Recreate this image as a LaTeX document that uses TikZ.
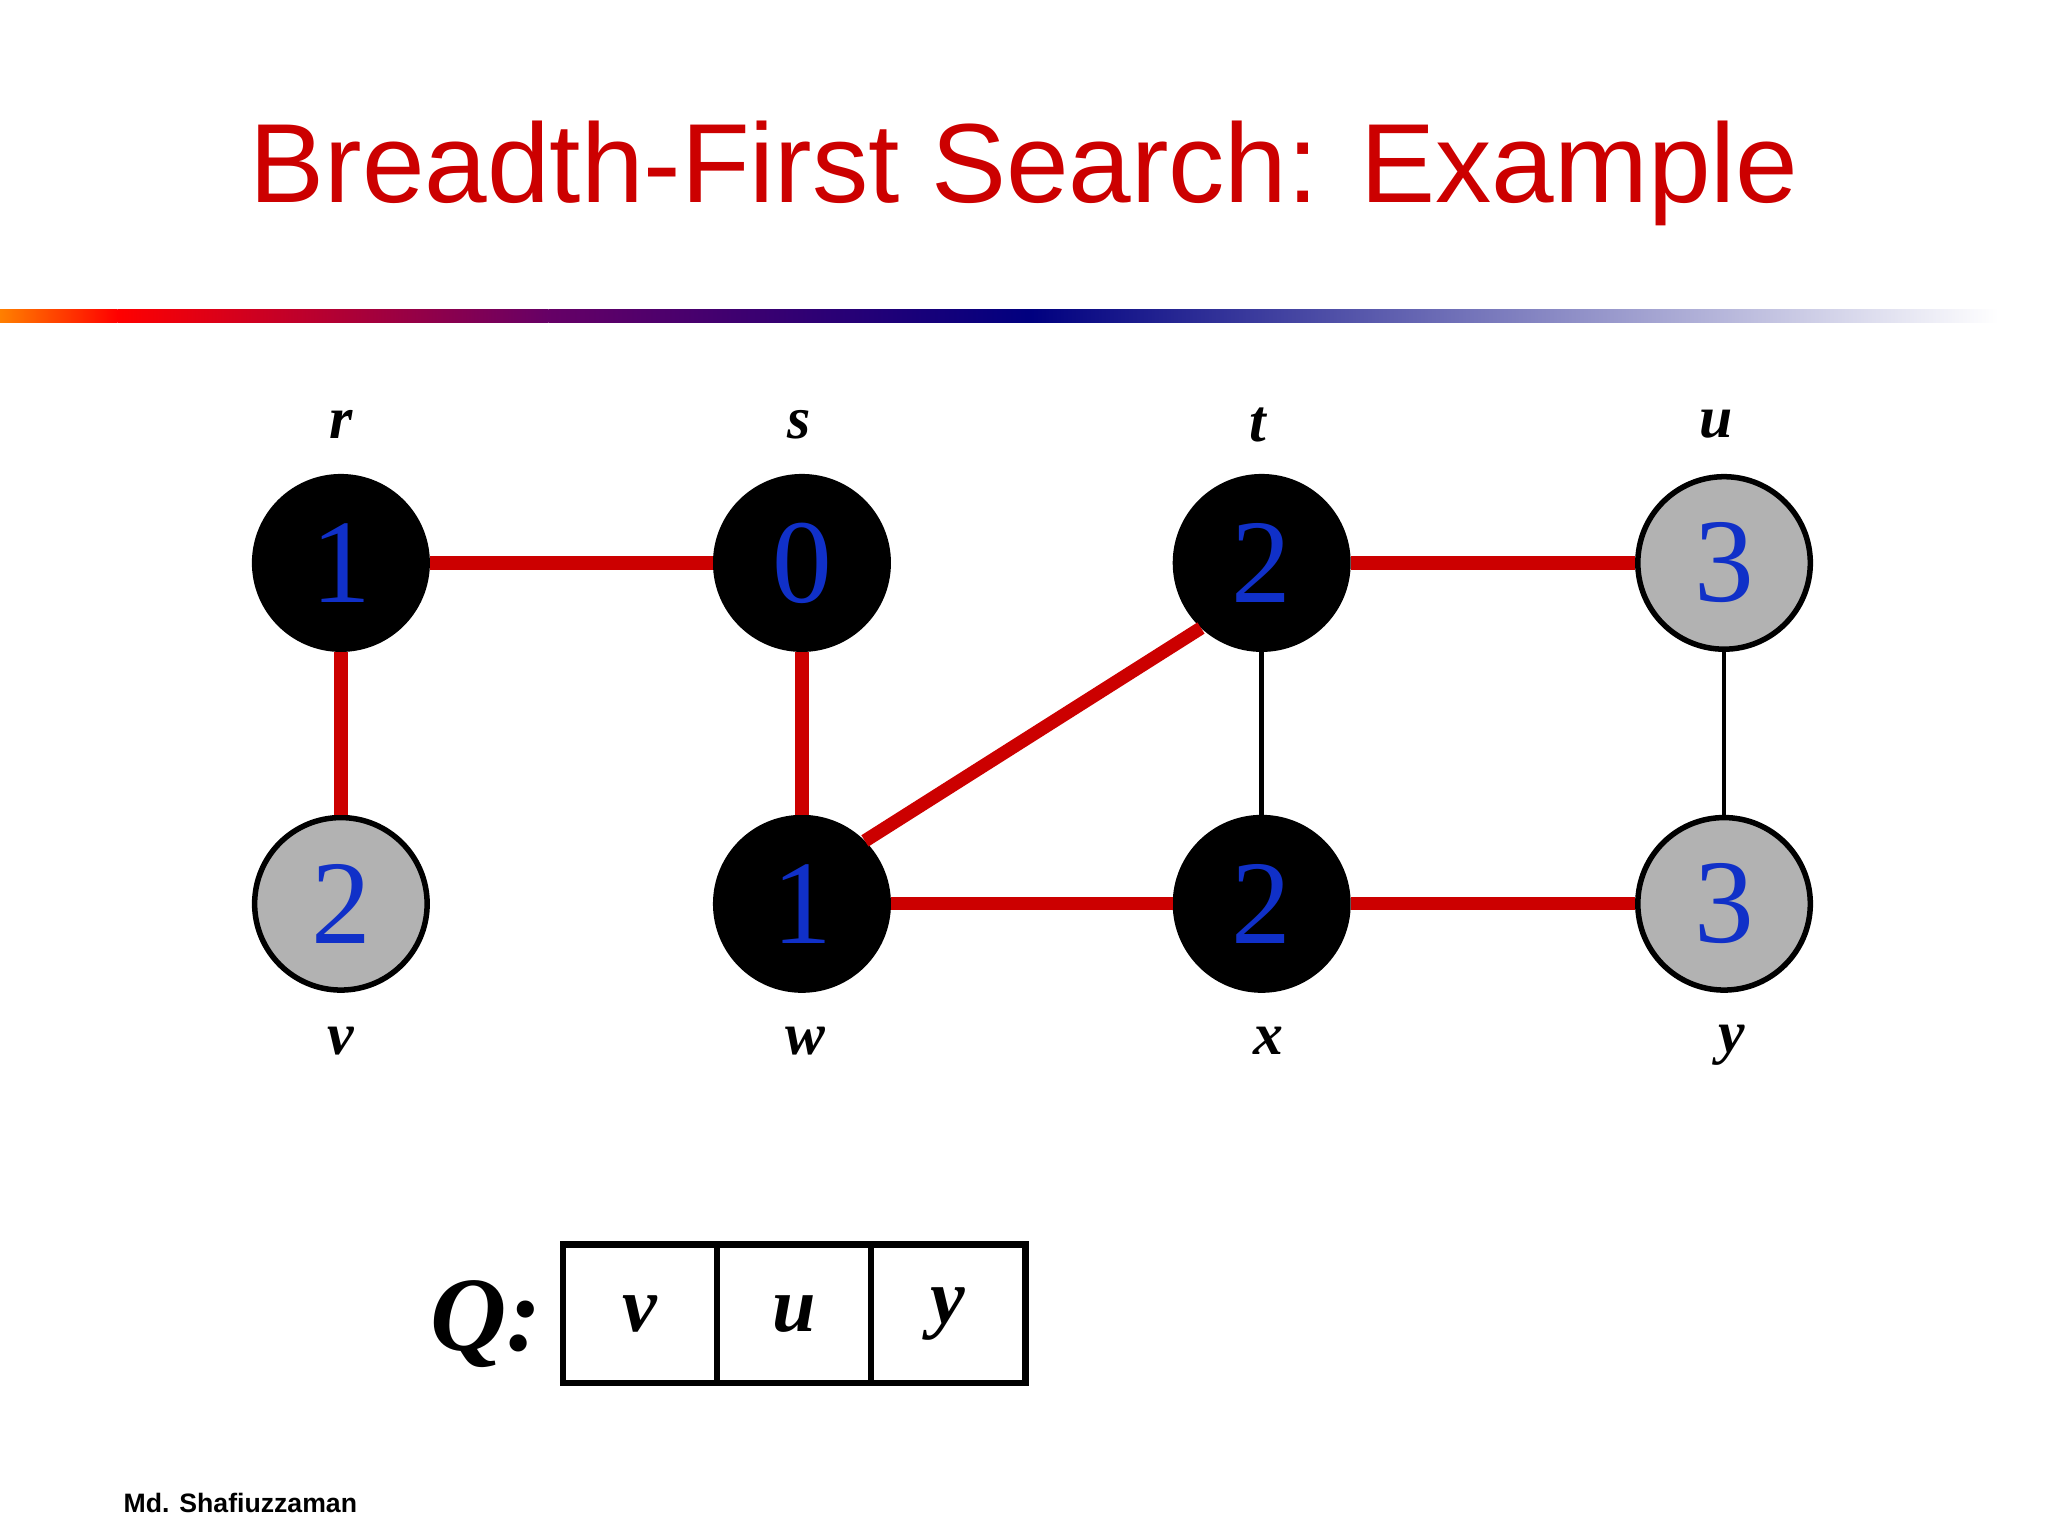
\documentclass[tikz,border=0pt]{standalone}
\usepackage{fontspec}
\setmainfont{Liberation Serif}
\newfontfamily\titlefont{Liberation Sans}
\definecolor{numblue}{RGB}{16,48,200}
\begin{document}
\begin{tikzpicture}[x=0.01cm,y=-0.01cm,
  vtx/.style={circle,minimum size=1.32cm,inner sep=0pt,draw=black,line width=1.2pt,font=\fontsize{26}{26}\selectfont,text=numblue},
  blk/.style={vtx,fill=black},
  gry/.style={vtx,fill=black!30},
  lbl/.style={font=\fontsize{13}{13}\selectfont\bfseries\itshape},
  tree/.style={draw=red!80!black,line width=2.9pt},
  plain/.style={draw=black,line width=1pt},
  qcell/.style={draw=black,line width=1.4pt,minimum width=1.18cm,minimum height=1.06cm,inner sep=0pt,font=\fontsize{17}{17}\selectfont\bfseries\itshape}]
\useasboundingbox (0,0) rectangle (1568,1176);
\fill[white] (0,0) rectangle (1568,1176);
\node[font=\titlefont\fontsize{24.5}{25}\selectfont,text=red!80!black] (title) at (784,133) {Breadth-First Search: Example};
% gradient bar
\shade[left color=orange,right color=red] (0,237) rectangle (90,247);
\shade[left color=red,right color=violet!80!black] (90,237) rectangle (420,247);
\shade[left color=violet!80!black,right color=blue!50!black] (420,237) rectangle (790,247);
\shade[left color=blue!50!black,right color=white] (790,237) rectangle (1530,247);
% vertices
\node[blk] (r) at (261,431) {1};
\node[blk] (s) at (614,431) {0};
\node[blk] (t) at (966,431) {2};
\node[gry] (u) at (1320,431) {3};
\node[gry] (v) at (261,692) {2};
\node[blk] (w) at (614,692) {1};
\node[blk] (x) at (966,692) {2};
\node[gry] (y) at (1320,692) {3};
% labels
\node[lbl] (lr) at (261,325) {r};
\node[lbl] (ls) at (612,325) {s};
\node[lbl] (lt) at (963,325) {t};
\node[lbl] (lu) at (1314,325) {u};
\node[lbl] (lv) at (261,797) {v};
\node[lbl] (lw) at (617,797) {w};
\node[lbl] (lx) at (971,797) {x};
\node[lbl] (ly) at (1326,800) {y};
% edges
\path[tree] (r) -- (s);
\path[tree] (r) -- (v);
\path[tree] (s) -- (w);
\path[tree] (w.45) -- (t.227);
\path[tree] (t) -- (u);
\path[tree] (w) -- (x);
\path[tree] (x) -- (y);
\path[plain] (t) -- (x);
\path[plain] (u) -- (y);
% queue
\node[qcell] (q1) at (490,1006) {\raisebox{-3pt}{v}};
\node[qcell] (q2) at (608,1006) {\raisebox{-3pt}{u}};
\node[qcell] (q3) at (726,1006) {\raisebox{-3pt}{y}};
\node[font=\fontsize{23}{23}\selectfont\bfseries\itshape] (Q) at (372,1014) {Q:};
\node[font=\titlefont\fontsize{5.8}{6}\selectfont\bfseries,anchor=west,inner sep=0pt] (foot) at (94,1151) {Md. Shafiuzzaman};
\end{tikzpicture}
\end{document}
